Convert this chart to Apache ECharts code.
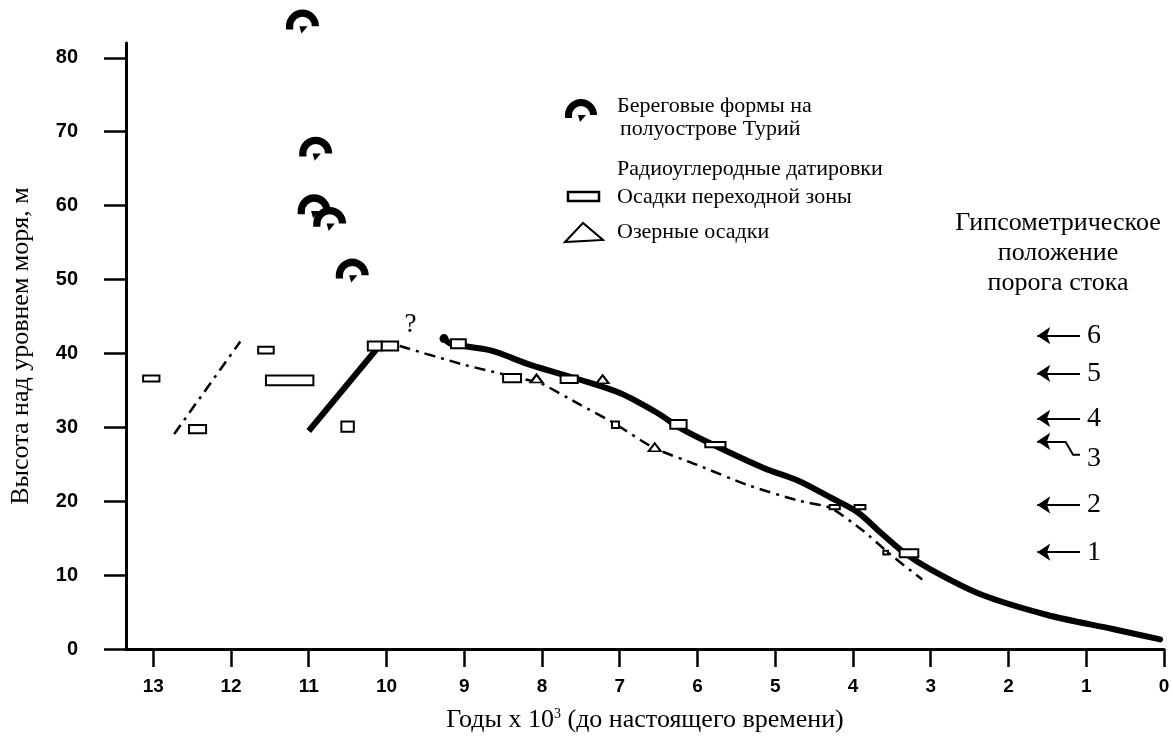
<!DOCTYPE html>
<html>
<head>
<meta charset="utf-8">
<script src="https://cdn.jsdelivr.net/npm/echarts@6/dist/echarts.min.js"></script>
<style>
html, body { margin: 0; padding: 0; background: #fff; }
#chart { width: 1173px; height: 738px; }
</style>
</head>
<body>
<div id="chart"></div>
<script>
// age in 10^3 years BP, elevation in m
const mainCurve = [
  [9.26, 42.0], [9.17, 41.3], [8.66, 40.4], [8.14, 38.4], [7.50, 36.4], [6.99, 34.6],
  [6.51, 31.9], [6.22, 29.9], [5.79, 27.6], [5.15, 24.5], [4.71, 22.8], [4.29, 20.5],
  [3.94, 18.5], [3.65, 15.8], [3.35, 13.1], [3.01, 10.8], [2.36, 7.4], [1.50, 4.6],
  [0.66, 2.7], [0.05, 1.3]
]
const lowerCurve = [
  [9.83, 41.0], [8.98, 38.4], [8.18, 36.4], [8.02, 36.0], [7.50, 33.0], [7.08, 30.6],
  [6.56, 27.2], [6.00, 24.9], [5.36, 22.2], [4.71, 20.1], [4.29, 19.1], [3.87, 16.0],
  [3.52, 12.8], [3.11, 9.4]
]
const earlyDashDot = [[12.73, 29.1], [11.88, 41.6]]
const earlySolid = [[11.0, 29.5], [10.07, 41.3]]
const shoreForms = [[11.08, 84.9], [10.91, 67.7], [10.93, 59.9], [10.73, 58.2], [10.44, 51.2]]
// [age old, age young, elev low, elev high]
const transitionDates = [
  [13.13, 12.92, 36.2, 37.0], [12.54, 12.32, 29.2, 30.3], [11.65, 11.45, 40.0, 40.9],
  [11.55, 10.94, 35.7, 37.0], [10.58, 10.42, 29.4, 30.8], [10.24, 10.06, 40.4, 41.6],
  [10.06, 9.85, 40.4, 41.6], [9.17, 8.98, 40.7, 41.9], [8.50, 8.27, 36.1, 37.2],
  [7.76, 7.54, 36.0, 37.0], [7.10, 7.01, 29.9, 30.8], [6.35, 6.14, 29.8, 31.0],
  [5.90, 5.64, 27.3, 28.0], [4.30, 4.17, 18.9, 19.5], [3.98, 3.84, 18.9, 19.5],
  [3.61, 3.55, 12.8, 13.3], [3.40, 3.16, 12.4, 13.5]
]
const lakeDates = [[8.07, 36.6], [7.22, 36.5], [6.55, 27.3]]
const sillHeights = [13.1, 19.5, 28.1, 31.2, 37.3, 42.4]
const sillLabels = ['1', '2', '3', '4', '5', '6']
const questionMark = [[9.69, 43.8]]

const hookPath = 'M-16 3L-16 0A16 16 0 0 1 16 0L9 0A9 9 0 0 0 -9 0L-9 3ZM-3 0L5 0L-1 7Z'
const serif = 'Liberation Serif'
const dashDot = [11, 6, 3, 6]

const chart = echarts.init(document.getElementById('chart'), null, { renderer: 'canvas' })

// arrows point left, tail at 1.08 ka, tip at 1.63 ka; №3 has a bent tail
const sillArrows = sillHeights.map((h, i) => ({
  coords: i === 2 ? [[1.27, h], [1.63, h]] : [[1.08, h], [1.63, h]]
}))
const sillBend = [{ coords: [[1.08, sillHeights[2] - 1.8], [1.17, sillHeights[2] - 1.8], [1.27, sillHeights[2]]] }]
const sillTexts = sillHeights.map((h, i) => ({
  value: [0.9, i === 2 ? h - 2.3 : h],
  name: sillLabels[i]
}))

const legendText = (x, y, text) => ({
  type: 'text', x, y,
  style: { text, font: '22px "Liberation Serif"', fill: '#000', verticalAlign: 'middle' }
})
const noteText = (y, text) => ({
  type: 'text', x: 1058, y,
  style: { text, font: '26px "Liberation Serif"', fill: '#000', align: 'center', verticalAlign: 'middle' }
})

const option = {
  animation: false,
  backgroundColor: '#fff',
  grid: { left: 125, right: 9, top: 43, bottom: 86 },
  xAxis: {
    type: 'value',
    inverse: true,
    min: 0,
    max: 13.35,
    interval: 1,
    name: 'Годы x 10{sup|3} (до настоящего времени)',
    nameLocation: 'middle',
    nameGap: 58,
    nameTextStyle: {
      fontFamily: serif, fontSize: 26, color: '#000',
      rich: { sup: { fontFamily: serif, fontSize: 14, color: '#000', verticalAlign: 'top', lineHeight: 14 } }
    },
    axisLine: { onZero: false, lineStyle: { color: '#000', width: 3 } },
    axisTick: { length: 18, lineStyle: { color: '#000', width: 2.5 } },
    axisLabel: { margin: 28, color: '#000', fontFamily: 'Liberation Sans', fontWeight: 'bold', fontSize: 19 },
    splitLine: { show: false }
  },
  yAxis: {
    type: 'value',
    position: 'left',
    min: 0,
    max: 82,
    interval: 10,
    name: 'Высота над уровнем моря, м',
    nameLocation: 'middle',
    nameGap: 92,
    nameTextStyle: { fontFamily: serif, fontSize: 26, color: '#000' },
    axisLine: { show: true, onZero: false, lineStyle: { color: '#000', width: 3 } },
    axisTick: { show: true, length: 22, lineStyle: { color: '#000', width: 2.5 } },
    axisLabel: { margin: 48, color: '#000', fontFamily: 'Liberation Sans', fontWeight: 'bold', fontSize: 20 },
    splitLine: { show: false }
  },
  series: [
    {
      type: 'line', data: mainCurve.map((p, i) => i === 0 ? { value: p, symbol: 'circle', symbolSize: 9 } : p),
      symbol: 'none', smooth: 0.3, z: 2,
      itemStyle: { color: '#000' },
      lineStyle: { color: '#000', width: 6, cap: 'round' }
    },
    {
      type: 'line', data: lowerCurve, symbol: 'none', smooth: 0.2, z: 2,
      lineStyle: { color: '#000', width: 2.5, type: dashDot }
    },
    {
      type: 'line', data: earlyDashDot, symbol: 'none', z: 2,
      lineStyle: { color: '#000', width: 2.5, type: dashDot }
    },
    {
      type: 'line', data: earlySolid, symbol: 'none', z: 2,
      lineStyle: { color: '#000', width: 6 }
    },
    {
      type: 'custom', z: 3,
      data: transitionDates,
      encode: { x: [0, 1], y: [2, 3] },
      renderItem(params, api) {
        const p1 = api.coord([api.value(0), api.value(3)])
        const p2 = api.coord([api.value(1), api.value(2)])
        return {
          type: 'rect',
          shape: {
            x: Math.min(p1[0], p2[0]), y: Math.min(p1[1], p2[1]),
            width: Math.abs(p2[0] - p1[0]), height: Math.abs(p2[1] - p1[1])
          },
          style: { fill: '#fff', stroke: '#000', lineWidth: 2 }
        }
      }
    },
    {
      type: 'scatter', data: lakeDates, z: 3,
      symbol: 'triangle', symbolSize: [12, 8],
      itemStyle: { color: '#fff', borderColor: '#000', borderWidth: 2, opacity: 1 }
    },
    {
      type: 'scatter', data: shoreForms, z: 4, clip: false,
      symbol: 'path://' + hookPath, symbolSize: [33, 24],
      itemStyle: { color: '#000', opacity: 1 }
    },
    {
      type: 'lines', coordinateSystem: 'cartesian2d', z: 3,
      data: sillArrows,
      symbol: ['none', 'arrow'], symbolSize: [9, 13],
      lineStyle: { color: '#000', width: 2, opacity: 1, curveness: 0 }
    },
    {
      type: 'lines', coordinateSystem: 'cartesian2d', polyline: true, z: 3,
      data: sillBend,
      lineStyle: { color: '#000', width: 2, opacity: 1, curveness: 0 }
    },
    {
      type: 'scatter', data: sillTexts, symbolSize: 0, z: 3,
      itemStyle: { opacity: 1 },
      label: { show: true, position: 'inside', formatter: '{b}', fontFamily: serif, fontSize: 28, color: '#000' }
    },
    {
      type: 'scatter', data: questionMark, symbolSize: 0, z: 3,
      itemStyle: { opacity: 1 },
      label: { show: true, position: 'inside', formatter: '?', fontFamily: serif, fontSize: 27, color: '#000' }
    }
  ],
  graphic: [
    {
      type: 'arc', shape: { cx: 581, cy: 115, r: 12.5, startAngle: Math.PI, endAngle: Math.PI * 2, clockwise: true },
      style: { stroke: '#000', lineWidth: 7, fill: null }
    },
    { type: 'rect', shape: { x: 565, y: 114, width: 7, height: 4 }, style: { fill: '#000' } },
    { type: 'polygon', shape: { points: [[578, 115], [586, 115], [580, 122]] }, style: { fill: '#000' } },
    legendText(617, 106, 'Береговые формы на'),
    legendText(620, 129, 'полуострове Турий'),
    legendText(617, 169, 'Радиоуглеродные датировки'),
    { type: 'rect', shape: { x: 568, y: 192, width: 31, height: 9 }, style: { fill: '#fff', stroke: '#000', lineWidth: 2.5 } },
    legendText(617, 197, 'Осадки переходной зоны'),
    { type: 'polygon', shape: { points: [[565, 242], [583, 223], [603, 240]] }, style: { fill: '#fff', stroke: '#000', lineWidth: 2 } },
    legendText(617, 232, 'Озерные осадки'),
    noteText(223, 'Гипсометрическое'),
    noteText(253, 'положение'),
    noteText(283, 'порога стока')
  ]
}

chart.setOption(option)
</script>
</body>
</html>
